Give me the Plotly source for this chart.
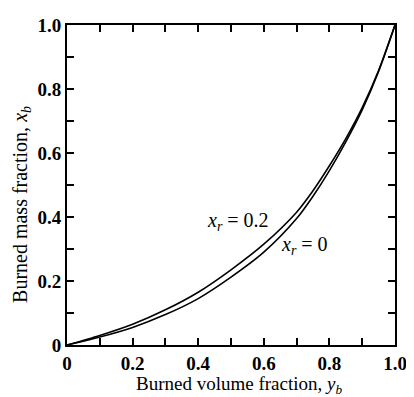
import plotly.graph_objects as go

# burned volume fraction y_b
yb = [0, 0.1, 0.2, 0.3, 0.4, 0.5, 0.6, 0.7, 0.75, 0.8, 0.85, 0.9, 0.95, 1.0]
# burned mass fraction x_b for residual fraction x_r = 0 and x_r = 0.2
xb_r0 = [0, 0.025, 0.055, 0.095, 0.145, 0.212, 0.29, 0.395, 0.465, 0.545, 0.635, 0.735, 0.855, 1.0]
xb_r02 = [0, 0.03, 0.065, 0.11, 0.165, 0.235, 0.315, 0.415, 0.482, 0.56, 0.645, 0.742, 0.858, 1.0]

tick_vals = [0, 0.2, 0.4, 0.6, 0.8, 1.0]
tick_text = ["0", "0.2", "0.4", "0.6", "0.8", "1.0"]

serif = "Liberation Serif, Times New Roman, serif"

fig = go.Figure()
for ys in (xb_r0, xb_r02):
    fig.add_scatter(x=yb, y=ys, mode="lines",
                    line=dict(color="black", width=1.6, shape="spline", smoothing=0.8))

fig.add_annotation(x=0.42, y=0.385, text="<i>x<sub>r</sub></i>&nbsp;=&nbsp;0.2", showarrow=False,
                   xanchor="left", yanchor="middle", font=dict(family=serif, size=20, color="black"))
fig.add_annotation(x=0.645, y=0.31, text="<i>x<sub>r</sub></i>&nbsp;=&nbsp;0", showarrow=False,
                   xanchor="left", yanchor="middle", font=dict(family=serif, size=20, color="black"))

# axis titles as paper annotations so their position is exact
fig.add_annotation(xref="paper", yref="paper", x=0.523, y=-0.124,
                   text="Burned volume fraction, <i>y<sub>b</sub></i>", showarrow=False,
                   xanchor="center", yanchor="middle", font=dict(family=serif, size=19, color="black"))
fig.add_annotation(xref="paper", yref="paper", x=-0.141, y=0.44, textangle=-90,
                   text="Burned mass fraction, <i>x<sub>b</sub></i>", showarrow=False,
                   xanchor="center", yanchor="middle", font=dict(family=serif, size=20, color="black"))

axis_common = dict(
    range=[0, 1], tickvals=tick_vals, ticktext=tick_text,
    ticks="inside", ticklen=7, tickwidth=1.5, tickcolor="black",
    minor=dict(dtick=0.1, ticks="inside", ticklen=7, tickwidth=1.5, tickcolor="black"),
    showline=True, linecolor="black", linewidth=2, mirror="ticks",
    showgrid=False, zeroline=False, ticklabeloverflow="allow",
    tickfont=dict(family=serif, size=19, color="black", weight="bold"),
)

fig.update_xaxes(**axis_common)
fig.update_yaxes(**axis_common)

# the page body adds an 8px margin, so the figure is sized to end at the window edge
fig.update_layout(
    width=406, height=389,
    margin=dict(l=59, r=14, t=7, b=52),
    plot_bgcolor="white", paper_bgcolor="white",
    showlegend=False,
)

fig.write_html("out.html")
